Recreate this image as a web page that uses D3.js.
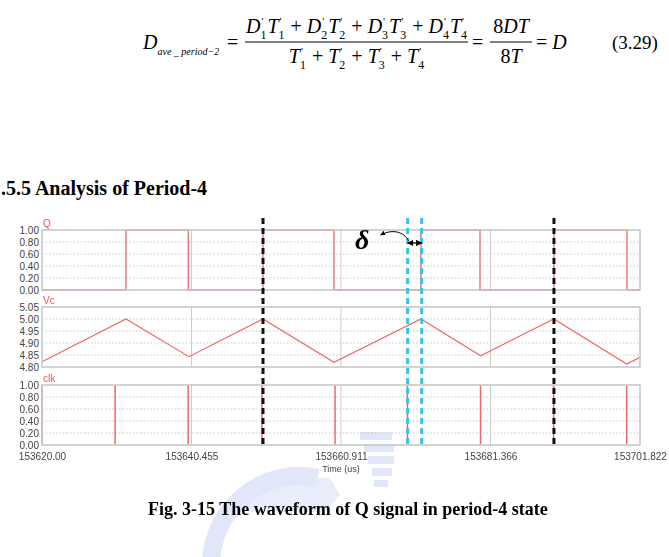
<!DOCTYPE html>
<html>
<head>
<meta charset="UTF-8">
<script src="https://d3js.org/d3.v7.min.js"></script>
<style>
  body { margin: 0; background: #fff; }
  svg { display: block; }
  .serif, .serif text { font-family: "Liberation Serif", "Times New Roman", serif; }
  .tick text { font-family: "Liberation Sans", Arial, sans-serif; font-size: 10px; fill: #444; }
  .plab { font-family: "Liberation Sans", Arial, sans-serif; font-size: 10px; fill: #e05a5a; }
</style>
</head>
<body>
<svg id="chart"></svg>
<script>
// ---- data ----
const xTicks = [153620.00, 153640.455, 153660.911, 153681.366, 153701.822];
const qTicks = [0.00, 0.20, 0.40, 0.60, 0.80, 1.00];
const vcTicks = [4.80, 4.85, 4.90, 4.95, 5.00, 5.05];
const clkTicks = [0.00, 0.20, 0.40, 0.60, 0.80, 1.00];

const qRise = [153631.49, 153650.24, 153671.85, 153690.05];
const qFall = [153640.02, 153659.95, 153679.93, 153700.04];

const vcTimes  = [153620.00, 153631.49, 153640.11, 153650.24, 153659.95, 153671.85, 153680.02, 153690.02, 153700.0, 153701.822];
const vcValues = [4.822, 5.000, 4.843, 5.000, 4.820, 5.000, 4.847, 5.000, 4.812, 4.840];

const clkTimes = [153620.0, 153630.0, 153640.0, 153650.1, 153660.1, 153670.0, 153680.0, 153690.0, 153700.0];

const blackMarks = [153650.24, 153690.05];
const cyanMarks = [153670.03, 153671.95];

// ---- page ----
const W = 669, H = 557;
const svg = d3.select("#chart").attr("width", W).attr("height", H);
svg.append("rect").attr("width", W).attr("height", H).attr("fill", "#fff");

// faint watermark emblem
const wm = svg.append("g").attr("fill", "#b4c2ee").attr("opacity", 0.4);
wm.append("path")
  .attr("d", d3.arc().innerRadius(80).outerRadius(98).startAngle(-1.75).endAngle(0.2)())
  .attr("transform", "translate(300,565)");
[[360, 432, 32, 8], [364, 444, 30, 8], [368, 456, 26, 8], [372, 468, 20, 8], [374, 480, 14, 7]].forEach(r => {
  wm.append("rect").attr("x", r[0]).attr("y", r[1]).attr("width", r[2]).attr("height", r[3]);
});
wm.append("path").attr("d", "M245,505 L262,478 L330,478 L340,495 L325,512 L250,512 Z").attr("opacity", 0.7);

// ---- equation ----
function rich(parent, x, y, segs, size, anchor) {
  const g = parent.append("g");
  let cx = 0;
  segs.forEach(s => {
    if (s.k === "subp") {
      const a = g.append("text").attr("x", cx).attr("y", size * 0.28)
        .attr("font-size", size * 0.6).text(s.t);
      const p = g.append("text").attr("x", cx + 1).attr("y", -size * 0.42)
        .attr("font-size", size * 0.55).text("'");
      cx += Math.max(a.node().getComputedTextLength(), p.node().getComputedTextLength()) + 1;
    } else if (s.k === "sub") {
      const a = g.append("text").attr("x", cx).attr("y", size * 0.3)
        .attr("font-size", size * 0.5).attr("font-style", "italic").text(s.t);
      cx += a.node().getComputedTextLength();
    } else if (s.k === "op") {
      const a = g.append("text").attr("x", cx + 5).attr("y", 0).attr("font-size", size).text(s.t);
      cx += a.node().getComputedTextLength() + 10;
    } else {
      const a = g.append("text").attr("x", cx).attr("y", 0).attr("font-size", size)
        .attr("font-style", s.i ? "italic" : "normal").text(s.t);
      cx += a.node().getComputedTextLength();
    }
  });
  const off = anchor === "middle" ? -cx / 2 : 0;
  g.attr("transform", `translate(${x + off},${y})`);
  return cx;
}
const eq = svg.append("g").attr("class", "serif").attr("fill", "#000");
const num = [], den = [];
[1, 2, 3, 4].forEach((k, i) => {
  if (i > 0) { num.push({ t: "+", k: "op" }); den.push({ t: "+", k: "op" }); }
  num.push({ t: "D", i: true }, { t: String(k), k: "subp" }, { t: "T", i: true }, { t: String(k), k: "subp" });
  den.push({ t: "T", i: true }, { t: String(k), k: "subp" });
});
rich(eq, 143, 49, [{ t: "D", i: true }, { t: "ave _ period\u22122", k: "sub" }], 20);
rich(eq, 222, 49, [{ t: "=", k: "op" }], 20);
rich(eq, 357, 33, num, 20, "middle");
rich(eq, 357, 63, den, 20, "middle");
eq.append("line").attr("x1", 245).attr("x2", 468).attr("y1", 42).attr("y2", 42).attr("stroke", "#000").attr("stroke-width", 1);
rich(eq, 467, 49, [{ t: "=", k: "op" }], 20);
rich(eq, 511, 33, [{ t: "8" }, { t: "DT", i: true }], 20, "middle");
rich(eq, 511, 63, [{ t: "8" }, { t: "T", i: true }], 20, "middle");
eq.append("line").attr("x1", 490).attr("x2", 532).attr("y1", 42).attr("y2", 42).attr("stroke", "#000").attr("stroke-width", 1);
rich(eq, 531, 49, [{ t: "=", k: "op" }, { t: "D", i: true }], 20);
eq.append("text").attr("x", 612).attr("y", 49).attr("font-size", 19).text("(3.29)");

// heading
svg.append("text").attr("class", "serif").attr("x", 1).attr("y", 195).attr("font-size", 20).attr("font-weight", "bold")
  .text(".5.5 Analysis of Period-4");

// ---- chart ----
const x = d3.scaleLinear().domain([xTicks[0], xTicks[xTicks.length - 1]]).range([42, 640]);
const red = "#ee6868";

const panels = [
  { name: "Q",   top: 230, bottom: 290, ticks: qTicks,   labelY: 227 },
  { name: "Vc",  top: 307, bottom: 367, ticks: vcTicks,  labelY: 304 },
  { name: "clk", top: 385, bottom: 445, ticks: clkTicks, labelY: 382 }
];
panels.forEach(p => {
  p.y = d3.scaleLinear().domain(d3.extent(p.ticks)).range([p.bottom, p.top]);
  const g = svg.append("g");
  g.selectAll(".hg").data(p.ticks.slice(1, -1)).enter().append("line")
    .attr("x1", x.range()[0]).attr("x2", x.range()[1])
    .attr("y1", d => p.y(d)).attr("y2", d => p.y(d))
    .attr("stroke", "#bbb").attr("stroke-width", 0.8).attr("stroke-dasharray", "1.5,2");
  g.selectAll(".vg").data(xTicks.slice(1, -1)).enter().append("line")
    .attr("x1", d => x(d)).attr("x2", d => x(d))
    .attr("y1", p.top).attr("y2", p.bottom)
    .attr("stroke", "#ccc").attr("stroke-width", 1);
  g.append("g").attr("transform", "translate(40,0)")
    .call(d3.axisLeft(p.y).tickValues(p.ticks).tickFormat(d3.format(".2f")).tickSize(0).tickPadding(1))
    .call(a => a.select(".domain").remove());
  g.append("text").attr("class", "plab").attr("x", 43).attr("y", p.labelY).text(p.name);
});

// Q waveform
const qPts = [[xTicks[0], 0]];
qRise.forEach((r, i) => { qPts.push([r, 0], [r, 1], [qFall[i], 1], [qFall[i], 0]); });
qPts.push([xTicks[xTicks.length - 1], 0]);
const pQ = panels[0];
svg.append("path").datum(qPts)
  .attr("d", d3.line().x(d => x(d[0])).y(d => pQ.y(d[1])))
  .attr("fill", "none").attr("stroke", red).attr("stroke-width", 1.3);

// Vc waveform
const pV = panels[1];
svg.append("path").datum(vcTimes.map((t, i) => [t, vcValues[i]]))
  .attr("d", d3.line().x(d => x(d[0])).y(d => pV.y(d[1])))
  .attr("fill", "none").attr("stroke", red).attr("stroke-width", 1.2);

// clk pulses
const pC = panels[2];
svg.selectAll(".clk").data(clkTimes).enter().append("line")
  .attr("x1", d => x(d)).attr("x2", d => x(d))
  .attr("y1", pC.y(0)).attr("y2", pC.y(1))
  .attr("stroke", red).attr("stroke-width", 1.5);

// panel frames
panels.forEach(p => {
  svg.append("rect").attr("x", x.range()[0]).attr("y", p.top)
    .attr("width", x.range()[1] - x.range()[0]).attr("height", p.bottom - p.top)
    .attr("fill", "none").attr("stroke", "#c8c8c8").attr("stroke-width", 1.6);
});

// x axis
svg.append("g").attr("transform", `translate(0,${pC.bottom})`)
  .call(d3.axisBottom(x).tickValues(xTicks).tickFormat(d => xTicks.indexOf(d) === 0 ? d.toFixed(2) : d.toFixed(3)).tickSize(0).tickPadding(8))
  .call(a => a.select(".domain").remove());
svg.append("text").attr("x", 341).attr("y", 472).attr("text-anchor", "middle")
  .style("font-family", "Liberation Sans, Arial, sans-serif").attr("font-size", 9).attr("fill", "#444")
  .text("Time (us)");

// dashed markers
svg.selectAll(".bm").data(blackMarks).enter().append("line")
  .attr("x1", d => x(d)).attr("x2", d => x(d)).attr("y1", 218).attr("y2", 448)
  .attr("stroke", "#111").attr("stroke-width", 3).attr("stroke-dasharray", "6,4");
svg.selectAll(".cm").data(cyanMarks).enter().append("line")
  .attr("x1", d => x(d)).attr("x2", d => x(d)).attr("y1", 218).attr("y2", 448)
  .attr("stroke", "#33c6e6").attr("stroke-width", 3).attr("stroke-dasharray", "6,4");

// delta annotation
const defs = svg.append("defs");
defs.append("marker").attr("id", "ah").attr("viewBox", "0 0 10 10").attr("refX", 9).attr("refY", 5)
  .attr("markerWidth", 5).attr("markerHeight", 5).attr("orient", "auto-start-reverse")
  .append("path").attr("d", "M0,0 L10,5 L0,10 Z").attr("fill", "#000");
const c0 = x(cyanMarks[0]), c1 = x(cyanMarks[1]);
svg.append("line").attr("x1", c0).attr("x2", c1).attr("y1", 243).attr("y2", 243)
  .attr("stroke", "#000").attr("stroke-width", 1.3)
  .attr("marker-start", "url(#ah)").attr("marker-end", "url(#ah)");
svg.append("path").attr("d", `M${c0 + 1},241 C${c0 - 4},231 ${c0 - 16},229 ${c0 - 27},235`)
  .attr("fill", "none").attr("stroke", "#000").attr("stroke-width", 1).attr("marker-end", "url(#ah)");
svg.append("text").attr("class", "serif").attr("x", 355).attr("y", 249).attr("font-size", 28)
  .attr("font-style", "italic").attr("font-weight", "bold").text("\u03b4");

// caption
svg.append("text").attr("class", "serif").attr("x", 148).attr("y", 515).attr("font-size", 18).attr("font-weight", "bold")
  .text("Fig. 3-15 The waveform of Q signal in period-4 state");
</script>
</body>
</html>
